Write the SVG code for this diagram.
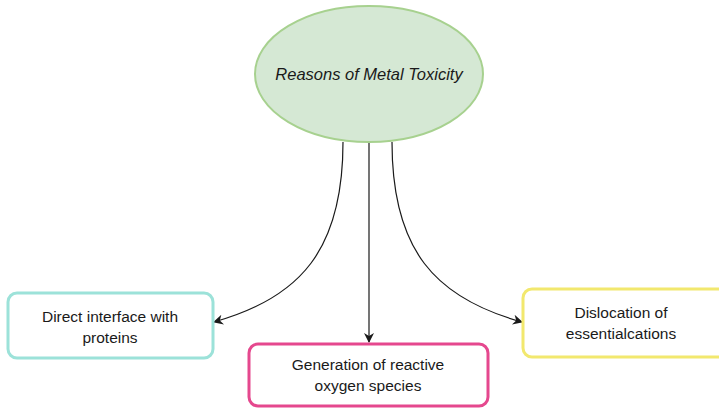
<svg xmlns="http://www.w3.org/2000/svg" width="719" height="408" viewBox="0 0 719 408">
<style>
text{font-family:"Liberation Sans",Arial,sans-serif;font-size:15.5px;fill:#1a1a1a;text-anchor:middle}
.box{fill:#fff;stroke-width:3}
.edge{fill:none;stroke:#1a1a1a;stroke-width:1.2}
</style>
<defs>
<marker id="arr" viewBox="0 0 10 10" refX="9" refY="5" markerWidth="10" markerHeight="10" markerUnits="userSpaceOnUse" orient="auto">
<path d="M0,0 L10,5 L0,10 L3,5 Z" fill="#1a1a1a"/>
</marker>
</defs>
<g id="connectors">
<path class="edge" d="M343,142 C343,250 300,298 214,322" marker-end="url(#arr)"/>
<path class="edge" d="M369,142 L369,342" marker-end="url(#arr)"/>
<path class="edge" d="M392,142 C392,250 435,298 522,322" marker-end="url(#arr)"/>
</g>
<g id="root">
<ellipse cx="369" cy="74" rx="114" ry="68" fill="#D5E8D4" stroke="#A7D18F" stroke-width="2"/>
<text x="369" y="80" font-style="italic" style="font-size:16.5px">Reasons of Metal Toxicity</text>
</g>
<g id="proteins">
<rect class="box" x="8" y="293" width="205" height="65" rx="9" stroke="#9CE2D9"/>
<text x="110" y="322">Direct interface with</text>
<text x="110" y="343">proteins</text>
</g>
<g id="ros">
<rect class="box" x="249" y="344" width="239" height="62" rx="9" stroke="#E5488E"/>
<text x="368" y="370">Generation of reactive</text>
<text x="368" y="391">oxygen species</text>
</g>
<g id="cations">
<rect class="box" x="523" y="289" width="206" height="68" rx="9" stroke="#F2E86E"/>
<text x="621" y="318">Dislocation of</text>
<text x="621" y="339">essentialcations</text>
</g>
</svg>
